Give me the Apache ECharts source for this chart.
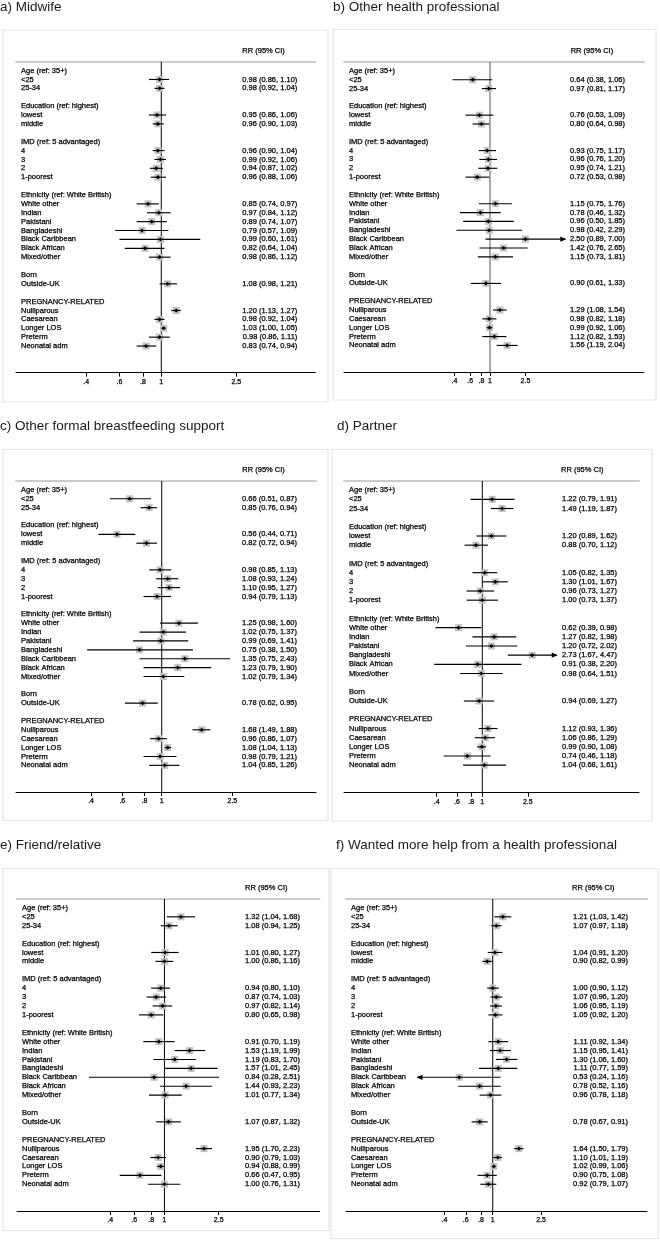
<!DOCTYPE html>
<html>
<head>
<meta charset="utf-8">
<script src="https://cdn.jsdelivr.net/npm/echarts@6/dist/echarts.min.js"></script>
<style>
html,body{margin:0;padding:0;background:#fff;}
#chart{width:660px;height:1240px;}
</style>
</head>
<body>
<div id="chart"></div>
<script>
// ---------- DATA ----------
const rowLabels = ['Age (ref: 35+)', '<25', '25-34', '',
  'Education (ref: highest)', 'lowest', 'middle', '',
  'IMD (ref: 5 advantaged)', '4', '3', '2', '1-poorest', '',
  'Ethnicity (ref: White British)', 'White other', 'Indian', 'Pakistani', 'Bangladeshi', 'Black Caribbean', 'Black African', 'Mixed/other', '',
  'Born', 'Outside-UK', '',
  'PREGNANCY-RELATED', 'Nulliparous', 'Caesarean', 'Longer LOS', 'Preterm', 'Neonatal adm'];
const rowLabelsPartner = rowLabels.filter(l => l !== 'Black Caribbean');

const estimateLabels = ['<25', '25-34', 'lowest', 'middle', '4', '3', '2', '1-poorest',
  'White other', 'Indian', 'Pakistani', 'Bangladeshi', 'Black Caribbean', 'Black African', 'Mixed/other',
  'Outside-UK', 'Nulliparous', 'Caesarean', 'Longer LOS', 'Preterm', 'Neonatal adm'];
const estimateLabelsPartner = estimateLabels.filter(l => l !== 'Black Caribbean');

const xTickValues = [0.4, 0.6, 0.8, 1, 2.5];
const xTickLabels = ['.4', '.6', '.8', '1', '2.5'];
const referenceRR = 1;

const midwifeRR   = [0.98,0.98,0.95,0.96,0.96,0.99,0.94,0.96,0.85,0.97,0.89,0.79,0.99,0.82,0.98,1.08,1.20,0.98,1.03,0.98,0.83];
const midwifeLow  = [0.86,0.92,0.86,0.90,0.90,0.92,0.87,0.88,0.74,0.84,0.74,0.57,0.60,0.64,0.86,0.98,1.13,0.92,1.00,0.86,0.74];
const midwifeHigh = [1.10,1.04,1.06,1.03,1.04,1.06,1.02,1.06,0.97,1.12,1.07,1.09,1.61,1.04,1.12,1.21,1.27,1.04,1.05,1.11,0.94];

const otherHpRR   = [0.64,0.97,0.76,0.80,0.93,0.96,0.95,0.72,1.15,0.78,0.96,0.98,2.50,1.42,1.15,0.90,1.29,0.98,0.99,1.12,1.56];
const otherHpLow  = [0.38,0.81,0.53,0.64,0.75,0.76,0.74,0.53,0.75,0.46,0.50,0.42,0.89,0.76,0.73,0.61,1.08,0.82,0.92,0.82,1.19];
const otherHpHigh = [1.06,1.17,1.09,0.98,1.17,1.20,1.21,0.98,1.76,1.32,1.85,2.29,7.00,2.65,1.81,1.33,1.54,1.18,1.06,1.53,2.04];
const otherHpArrows = {'Black Caribbean': 1};

const bfSupportRR   = [0.66,0.85,0.56,0.82,0.98,1.08,1.10,0.94,1.25,1.02,0.99,0.75,1.35,1.23,1.02,0.78,1.68,0.96,1.08,0.98,1.04];
const bfSupportLow  = [0.51,0.76,0.44,0.72,0.85,0.93,0.95,0.79,0.98,0.75,0.69,0.38,0.75,0.79,0.79,0.62,1.49,0.86,1.04,0.79,0.85];
const bfSupportHigh = [0.87,0.94,0.71,0.94,1.13,1.24,1.27,1.13,1.60,1.37,1.41,1.50,2.43,1.90,1.34,0.95,1.88,1.07,1.13,1.21,1.26];

const partnerRR   = [1.22,1.49,1.20,0.88,1.05,1.30,0.96,1.00,0.62,1.27,1.20,2.73,0.91,0.98,0.94,1.12,1.06,0.99,0.74,1.04];
const partnerLow  = [0.79,1.19,0.89,0.70,0.82,1.01,0.73,0.73,0.39,0.82,0.72,1.67,0.38,0.64,0.69,0.93,0.86,0.90,0.46,0.68];
const partnerHigh = [1.91,1.87,1.62,1.12,1.35,1.67,1.27,1.37,0.98,1.98,2.02,4.47,2.20,1.51,1.27,1.36,1.29,1.08,1.18,1.61];
const partnerArrows = {'Bangladeshi': 1};

const friendRR   = [1.32,1.08,1.01,1.00,0.94,0.87,0.97,0.80,0.91,1.53,1.19,1.57,0.84,1.44,1.01,1.07,1.95,0.90,0.94,0.66,1.00];
const friendLow  = [1.04,0.94,0.80,0.86,0.80,0.74,0.82,0.65,0.70,1.19,0.83,1.01,0.28,0.93,0.77,0.87,1.70,0.79,0.88,0.47,0.76];
const friendHigh = [1.68,1.25,1.27,1.16,1.10,1.03,1.14,0.98,1.19,1.99,1.70,2.45,2.51,2.23,1.34,1.32,2.23,1.03,0.99,0.95,1.31];

const moreHelpRR   = [1.21,1.07,1.04,0.90,1.00,1.07,1.06,1.05,1.11,1.15,1.30,1.11,0.53,0.78,0.96,0.78,1.64,1.10,1.02,0.90,0.92];
const moreHelpLow  = [1.03,0.97,0.91,0.82,0.90,0.96,0.95,0.92,0.92,0.95,1.06,0.77,0.24,0.52,0.78,0.67,1.50,1.01,0.99,0.75,0.79];
const moreHelpHigh = [1.42,1.18,1.20,0.99,1.12,1.20,1.19,1.20,1.34,1.41,1.60,1.59,1.16,1.16,1.18,0.91,1.79,1.19,1.06,1.08,1.07];
const moreHelpArrows = {'Black Caribbean': -1};

// ---------- LAYOUT / STYLE ----------
const FONT = '"Liberation Sans", Arial, Helvetica, sans-serif';
const TXT = {fontSize: 7.5, color: '#000', fontFamily: FONT, textBorderColor: '#000', textBorderWidth: 0.25};
const panels = [
  {title: 'a) Midwife', rows: rowLabels, labels: estimateLabels, rr: midwifeRR, lo: midwifeLow, hi: midwifeHigh, arrows: {},
   titlePos: [0, 0], box: [3, 30, 325, 372], grid: [16, 61.7, 299.3, 311], xr: [0.1696, 6.56], rrMargin: 18, head: 242.3, refColor: '#000'},
  {title: 'b) Other health professional', rows: rowLabels, labels: estimateLabels, rr: otherHpRR, lo: otherHpLow, hi: otherHpHigh, arrows: otherHpArrows,
   titlePos: [333, 0], box: [333, 29.5, 323, 370.5], grid: [344, 62, 300, 310], xr: [0.0230, 53.5], rrMargin: 19, head: 570.7, refColor: '#555'},
  {title: 'c) Other formal breastfeeding support', rows: rowLabels, labels: estimateLabels, rr: bfSupportRR, lo: bfSupportLow, hi: bfSupportHigh, arrows: {},
   titlePos: [0, 419], box: [3, 449.5, 325, 371], grid: [16, 481, 300, 311], xr: [0.151, 7.40], rrMargin: 19, head: 242.3, refColor: '#000'},
  {title: 'd) Partner', rows: rowLabelsPartner, labels: estimateLabelsPartner, rr: partnerRR, lo: partnerLow, hi: partnerHigh, arrows: partnerArrows,
   titlePos: [337, 419], box: [332, 449.5, 320, 371.5], grid: [344, 481, 295, 311.7], xr: [0.0619, 23.4], rrMargin: 22, head: 561, refColor: '#000'},
  {title: 'e) Friend/relative', rows: rowLabels, labels: estimateLabels, rr: friendRR, lo: friendLow, hi: friendHigh, arrows: {},
   titlePos: [0, 838], box: [3, 868.5, 326, 362], grid: [17, 899, 302.5, 312], xr: [0.0830, 13.7], rrMargin: 19.5, head: 245, refColor: '#000'},
  {title: 'f) Wanted more help from a health professional', rows: rowLabels, labels: estimateLabels, rr: moreHelpRR, lo: moreHelpLow, hi: moreHelpHigh, arrows: moreHelpArrows,
   titlePos: [336, 838], box: [331, 868.5, 327, 370], grid: [346, 899, 301, 312], xr: [0.0620, 18.6], rrMargin: 19, head: 572, refColor: '#000'}
];

function fmtRR(r, l, h) { return r.toFixed(2) + ' (' + l.toFixed(2) + ', ' + h.toFixed(2) + ')'; }
function tickFmt(v) {
  let best = 0, bd = Infinity;
  xTickValues.forEach((t, i) => { const d = Math.abs(t - v); if (d < bd) { bd = d; best = i; } });
  return bd < 1e-3 ? xTickLabels[best] : '';
}

function renderForest(params, api) {
  const est = api.value(0), lo = api.value(1), hi = api.value(2), row = api.value(3), arrow = api.value(4);
  const pE = api.coord([est, row]);
  const pL = api.coord([lo, row]);
  const pH = api.coord([hi, row]);
  const y = pE[1];
  const children = [
    {type: 'rect', shape: {x: pE[0] - 3.5, y: y - 3.5, width: 7, height: 7}, style: {fill: '#c2c2c2'}},
    {type: 'line', shape: {x1: pL[0], y1: y, x2: pH[0], y2: y}, style: {stroke: '#000', lineWidth: 1.15}},
    {type: 'polygon', shape: {points: [[pE[0], y - 2.1], [pE[0] + 2.1, y], [pE[0], y + 2.1], [pE[0] - 2.1, y]]}, style: {fill: '#000'}}
  ];
  if (arrow === 1) {
    children.push({type: 'polygon', shape: {points: [[pH[0] + 1, y], [pH[0] - 5, y - 2.6], [pH[0] - 5, y + 2.6]]}, style: {fill: '#000'}});
  } else if (arrow === -1) {
    children.push({type: 'polygon', shape: {points: [[pL[0] - 1, y], [pL[0] + 5, y - 2.6], [pL[0] + 5, y + 2.6]]}, style: {fill: '#000'}});
  }
  return {type: 'group', children};
}

const grids = [], xAxes = [], yAxes = [], series = [], titles = [], graphics = [];

panels.forEach((p, i) => {
  const cats = [''].concat(p.rows, ['', '', '']);
  const rrCats = cats.map(lab => {
    const k = p.labels.indexOf(lab);
    return (lab !== '' && k >= 0) ? fmtRR(p.rr[k], p.lo[k], p.hi[k]) : '';
  });
  const data = p.labels.map((lab, k) => [p.rr[k], p.lo[k], p.hi[k], cats.indexOf(lab), p.arrows[lab] || 0]);

  graphics.push({type: 'rect', z: -10, silent: true,
    shape: {x: p.box[0], y: p.box[1], width: p.box[2], height: p.box[3]},
    style: {fill: '#fff', stroke: '#e2e8e8', lineWidth: 1.2}});

  titles.push({text: p.title, left: p.titlePos[0], top: p.titlePos[1], padding: 0,
    textStyle: {fontSize: 13.5, fontWeight: 'normal', color: '#1a1a1a', fontFamily: FONT}});
  titles.push({text: 'RR (95% CI)', left: p.head, top: p.grid[1] - 15, padding: 0,
    textStyle: Object.assign({fontWeight: 'normal'}, TXT)});

  grids.push({left: p.grid[0], top: p.grid[1], width: p.grid[2], height: p.grid[3], containLabel: false, outerBoundsMode: 'none'});

  xAxes.push({gridIndex: i, type: 'log', logBase: 2, min: p.xr[0], max: p.xr[1], position: 'bottom',
    axisLine: {show: true, onZero: false, lineStyle: {color: '#000', width: 1}},
    axisTick: {show: true, customValues: xTickValues, length: 4, lineStyle: {color: '#000', width: 1}},
    minorTick: {show: false},
    axisLabel: Object.assign({show: true, customValues: xTickValues, formatter: tickFmt, margin: 6}, TXT, {fontSize: 7}),
    splitLine: {show: false}});
  xAxes.push({gridIndex: i, type: 'value', min: 0, max: 1, position: 'top',
    axisLine: {show: true, onZero: false, lineStyle: {color: '#cccccc', width: 2}},
    axisTick: {show: false}, axisLabel: {show: false}, splitLine: {show: false}});

  yAxes.push({gridIndex: i, type: 'category', inverse: true, boundaryGap: false, data: cats, position: 'left',
    axisLine: {show: false}, axisTick: {show: false}, splitLine: {show: false},
    axisLabel: Object.assign({inside: true, interval: 0, margin: 5}, TXT)});
  yAxes.push({gridIndex: i, type: 'category', inverse: true, boundaryGap: false, data: rrCats, position: 'right',
    axisLine: {show: false}, axisTick: {show: false}, splitLine: {show: false},
    axisLabel: Object.assign({inside: true, interval: 0, margin: p.rrMargin}, TXT)});

  series.push({type: 'line', xAxisIndex: 2 * i, yAxisIndex: 2 * i, silent: true, z: 1,
    data: [[referenceRR, 0], [referenceRR, cats.length - 1]], symbol: 'none', showSymbol: false,
    lineStyle: {color: p.refColor, width: 1}});
  series.push({type: 'custom', xAxisIndex: 2 * i, yAxisIndex: 2 * i, z: 3, silent: true,
    dimensions: ['rr', 'low', 'high', 'row', 'arrow'],
    encode: {x: [0, 1, 2], y: 3},
    data, renderItem: renderForest});
});

const chart = echarts.init(document.getElementById('chart'), null, {renderer: 'canvas'});
chart.setOption({
  animation: false,
  backgroundColor: '#fff',
  title: titles,
  grid: grids,
  xAxis: xAxes,
  yAxis: yAxes,
  graphic: {elements: graphics},
  series
});
</script>
</body>
</html>
